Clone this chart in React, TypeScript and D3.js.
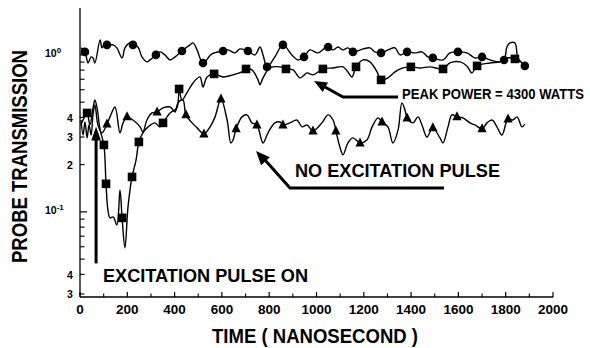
import React from "react";
import * as d3 from "d3";

// Time axis ticks (ns)
const timeTicks = [0, 200, 400, 600, 800, 1000, 1200, 1400, 1600, 1800, 2000];
const minorTimeTicks = [100, 300, 500, 700, 900, 1100, 1300, 1500, 1700, 1900];

// Transmission axis ticks
const decadeTicks = [1, 0.1];
const digitTicks = [0.4, 0.3, 0.2, 0.04, 0.03];
const minorTransTicks = [
  0.03, 0.04, 0.05, 0.06, 0.07, 0.08, 0.09,
  0.2, 0.3, 0.4, 0.5, 0.6, 0.7, 0.8, 0.9,
];

// Probe transmission traces: [time ns, transmission]
const circleTrace: [number, number][] = [
  [4, 1.108], [21, 1.045], [34, 0.889], [47, 0.971], [55, 0.957], [63, 0.889], [85, 1.246], [93, 1.108],
  [106, 1.192], [114, 1.158], [140, 1.158], [156, 1.108], [178, 0.957], [190, 1.108], [211, 1.192], [224, 1.158],
  [245, 1.124], [262, 0.971], [283, 0.903], [296, 0.929], [321, 1.0], [338, 1.045], [359, 1.0], [381, 0.929],
  [402, 0.971], [431, 1.06], [465, 1.158], [478, 1.192], [495, 1.076], [520, 0.889], [558, 1.015], [605, 1.06],
  [626, 1.076], [655, 1.03], [676, 1.092], [710, 1.06], [740, 1.0], [761, 1.124], [774, 1.0], [791, 0.839],
  [824, 0.971], [858, 1.158], [896, 1.0], [922, 0.929], [947, 0.971], [972, 1.076], [1006, 1.03], [1036, 1.108],
  [1049, 1.124], [1070, 1.076], [1091, 1.124], [1112, 1.076], [1133, 1.108], [1154, 1.045], [1197, 1.092],
  [1226, 1.108], [1247, 1.045], [1273, 1.03], [1302, 1.076], [1332, 1.108], [1353, 1.0], [1383, 1.045],
  [1416, 1.03], [1446, 1.045], [1471, 0.971], [1492, 0.957], [1535, 0.929], [1564, 1.03], [1598, 1.045],
  [1636, 1.03], [1670, 0.957], [1700, 0.971], [1733, 0.929], [1767, 0.903], [1793, 0.929], [1805, 1.124],
  [1818, 1.192], [1839, 1.192], [1852, 0.957], [1881, 0.851],
];
const circleMarkerTimes = [21, 114, 224, 321, 431, 520, 605, 710, 791, 858, 947, 1049, 1154, 1273, 1383, 1492, 1598, 1700, 1793, 1881];

const squareTrace: [number, number][] = [
  [4, 0.358], [17, 0.397], [30, 0.427], [42, 0.358], [55, 0.46], [63, 0.517], [72, 0.46], [85, 0.333],
  [101, 0.267], [110, 0.151], [118, 0.103], [127, 0.0916], [140, 0.0929], [156, 0.0826], [169, 0.138],
  [178, 0.0916], [190, 0.059], [203, 0.1076], [220, 0.167], [237, 0.214], [249, 0.279], [266, 0.319],
  [288, 0.348], [317, 0.369], [338, 0.348], [351, 0.369], [381, 0.427], [410, 0.46], [419, 0.607], [431, 0.517],
  [452, 0.573], [478, 0.663], [507, 0.724], [520, 0.625], [537, 0.724], [567, 0.757], [605, 0.724], [647, 0.746],
  [685, 0.779], [702, 0.814], [727, 0.803], [753, 0.693], [761, 0.644], [774, 0.714], [803, 0.826], [846, 0.839],
  [871, 0.814], [901, 0.803], [930, 0.714], [960, 0.768], [985, 0.746], [1027, 0.814], [1070, 0.826],
  [1112, 0.839], [1133, 0.779], [1150, 0.724], [1167, 0.839], [1197, 0.929], [1226, 0.903], [1256, 0.779],
  [1273, 0.693], [1302, 0.714], [1332, 0.779], [1366, 0.826], [1399, 0.839], [1438, 0.826], [1480, 0.839],
  [1535, 0.814], [1564, 0.889], [1607, 0.903], [1636, 0.851], [1657, 0.768], [1679, 0.851], [1733, 0.889],
  [1776, 0.903], [1805, 0.957], [1839, 0.943], [1860, 0.903],
];
const squareMarkerTimes = [30, 101, 110, 178, 220, 249, 351, 419, 567, 702, 871, 1027, 1167, 1273, 1399, 1535, 1679, 1839];

const triangleTrace: [number, number][] = [
  [4, 0.385], [13, 0.309], [21, 0.374], [30, 0.296], [38, 0.358], [47, 0.309], [55, 0.415], [63, 0.48],
  [76, 0.358], [93, 0.319], [114, 0.363], [127, 0.403], [148, 0.466], [169, 0.319], [182, 0.369], [199, 0.403],
  [224, 0.385], [254, 0.348], [266, 0.323], [283, 0.385], [304, 0.427], [326, 0.433], [351, 0.46], [381, 0.466],
  [402, 0.433], [414, 0.495], [435, 0.517], [448, 0.415], [474, 0.369], [495, 0.343], [524, 0.314], [550, 0.348],
  [571, 0.403], [596, 0.524], [622, 0.385], [638, 0.275], [647, 0.287], [660, 0.338], [685, 0.403], [706, 0.415],
  [727, 0.369], [748, 0.358], [774, 0.275], [795, 0.319], [824, 0.369], [846, 0.374], [858, 0.358], [888, 0.369],
  [917, 0.385], [939, 0.348], [960, 0.358], [985, 0.328], [1023, 0.369], [1049, 0.415], [1070, 0.385],
  [1082, 0.328], [1099, 0.259], [1112, 0.231], [1133, 0.275], [1154, 0.296], [1184, 0.275], [1213, 0.287],
  [1235, 0.348], [1260, 0.397], [1277, 0.374], [1302, 0.348], [1323, 0.275], [1345, 0.333], [1361, 0.495],
  [1374, 0.446], [1383, 0.397], [1408, 0.369], [1429, 0.403], [1446, 0.358], [1467, 0.3], [1492, 0.343],
  [1522, 0.296], [1535, 0.275], [1556, 0.348], [1573, 0.415], [1594, 0.403], [1619, 0.397], [1649, 0.369],
  [1670, 0.358], [1700, 0.338], [1721, 0.369], [1742, 0.385], [1763, 0.348], [1784, 0.309], [1810, 0.391],
  [1831, 0.385], [1848, 0.403], [1869, 0.348], [1881, 0.363],
];
const triangleMarkerTimes = [114, 199, 326, 448, 524, 596, 660, 748, 858, 985, 1082, 1184, 1277, 1383, 1492, 1594, 1700, 1810];

// Excitation pulse marker: time and transmission span of the arrow
const pulseTime = 68;
const pulseSpan = [0.047, 0.35];

const FONT = "'Liberation Sans', Arial, Helvetica, sans-serif";

const x = d3.scaleLinear().domain([0, 2000]).range([80, 553]);
const y = d3.scaleLog().domain([0.0287, 1.99]).range([297, 8]);

const traceLine = d3
  .line<[number, number]>()
  .x((d) => x(d[0]))
  .y((d) => y(d[1]))
  .curve(d3.curveCatmullRom.alpha(0.5));

function markerPoints(trace: [number, number][], times: number[]) {
  return times
    .map((t) => trace.find((d) => d[0] === t))
    .filter((d): d is [number, number] => !!d)
    .map((d) => [x(d[0]), y(d[1])] as [number, number]);
}

function arrowHead(fromX: number, fromY: number, tipX: number, tipY: number, len: number, half: number) {
  const dx = tipX - fromX;
  const dy = tipY - fromY;
  const l = Math.hypot(dx, dy);
  const ux = dx / l;
  const uy = dy / l;
  const bx = tipX - ux * len;
  const by = tipY - uy * len;
  const px = -uy * half;
  const py = ux * half;
  return `${tipX},${tipY} ${bx + px},${by + py} ${bx - px},${by - py}`;
}

export default function App() {
  const circles = markerPoints(circleTrace, circleMarkerTimes);
  const squares = markerPoints(squareTrace, squareMarkerTimes);
  const triangles = markerPoints(triangleTrace, triangleMarkerTimes);

  const [x0, x1] = x.range();
  const [yb, yt] = y.range();

  const px = x(pulseTime);
  const pyBottom = y(pulseSpan[0]);
  const pyTop = y(pulseSpan[1]);

  return (
    <svg
      width={590}
      height={348}
      viewBox="0 0 590 348"
      style={{ position: "absolute", left: 0, top: 0, background: "#fff" }}
      fontFamily={FONT}
      fontWeight="bold"
    >
      <rect x={0} y={0} width={590} height={348} fill="#fff" />

      {/* axes */}
      <line x1={x0} x2={x1} y1={yb} y2={yb} stroke="#000" strokeWidth={1.3} />
      <line x1={x0} x2={x0} y1={yb} y2={yt} stroke="#000" strokeWidth={1.3} />

      {timeTicks.map((t) => (
        <g key={"xt" + t}>
          <line x1={x(t)} x2={x(t)} y1={yb} y2={yb - 5} stroke="#000" strokeWidth={1.2} />
          <text x={x(t)} y={314} textAnchor="middle" fontSize={13.5}>
            {t}
          </text>
        </g>
      ))}
      {minorTimeTicks.map((t) => (
        <line key={"xm" + t} x1={x(t)} x2={x(t)} y1={yb} y2={yb - 3.5} stroke="#000" strokeWidth={1.1} />
      ))}

      {minorTransTicks.map((v) => (
        <line key={"ym" + v} x1={x0} x2={x0 + 4.5} y1={y(v)} y2={y(v)} stroke="#000" strokeWidth={1.1} />
      ))}
      {decadeTicks.map((v) => (
        <g key={"yd" + v}>
          <line x1={x0} x2={x0 + 7} y1={y(v)} y2={y(v)} stroke="#000" strokeWidth={1.2} />
          <text x={45} y={y(v) + 2.5} fontSize={10.5}>
            10
            <tspan dy={-4.5} fontSize={8}>
              {v === 1 ? "0" : "-1"}
            </tspan>
          </text>
        </g>
      ))}
      {digitTicks.map((v) => (
        <text key={"yl" + v} x={67} y={y(v) + 4.5} fontSize={10.5}>
          {String(v).replace(/^0\.0?/, "")}
        </text>
      ))}

      {/* axis titles */}
      <text x={212} y={343} fontSize={20} textLength={206} lengthAdjust="spacingAndGlyphs">
        TIME ( NANOSECOND )
      </text>
      <text
        transform="translate(27,156.5) rotate(-90)"
        textAnchor="middle"
        fontSize={22}
        textLength={213}
        lengthAdjust="spacingAndGlyphs"
      >
        PROBE TRANSMISSION
      </text>

      {/* traces */}
      <g fill="none" stroke="#000" strokeWidth={1.4} strokeLinejoin="round">
        <path d={traceLine(circleTrace) ?? ""} />
        <path d={traceLine(squareTrace) ?? ""} />
        <path d={traceLine(triangleTrace) ?? ""} />
      </g>

      {/* markers */}
      <g fill="#000">
        {circles.map(([cx, cy], i) => (
          <circle key={"c" + i} cx={cx} cy={cy} r={4.3} />
        ))}
        {squares.map(([cx, cy], i) => (
          <rect key={"s" + i} x={cx - 4.3} y={cy - 4.3} width={8.6} height={8.6} />
        ))}
        {triangles.map(([cx, cy], i) => (
          <polygon key={"t" + i} points={`${cx},${cy - 5.5} ${cx + 4.6},${cy + 3.5} ${cx - 4.6},${cy + 3.5}`} />
        ))}
      </g>

      {/* excitation pulse arrow */}
      <line x1={px} x2={px} y1={pyBottom} y2={pyTop + 12} stroke="#000" strokeWidth={3} />
      <polygon points={arrowHead(px, pyBottom, px, pyTop, 14, 4.8)} fill="#000" />
      <text x={103} y={282} fontSize={19} textLength={205} lengthAdjust="spacingAndGlyphs">
        EXCITATION PULSE ON
      </text>

      {/* peak power callout */}
      <polyline points="398,97 343,97 325,87" fill="none" stroke="#000" strokeWidth={3} strokeLinejoin="miter" />
      <polygon points={arrowHead(343, 97, 314, 81, 13, 5.5)} fill="#000" />
      <text transform="translate(402,99) scale(1,1.15)" x={0} y={0} fontSize={13.1}>
        PEAK POWER = 4300 WATTS
      </text>

      {/* no excitation callout */}
      <polyline points="444,188 290,188 265,160" fill="none" stroke="#000" strokeWidth={3} strokeLinejoin="miter" />
      <polygon points={arrowHead(290, 188, 256, 151, 14, 6)} fill="#000" />
      <text x={295} y={177} fontSize={19} textLength={205} lengthAdjust="spacingAndGlyphs">
        NO EXCITATION PULSE
      </text>
    </svg>
  );
}
